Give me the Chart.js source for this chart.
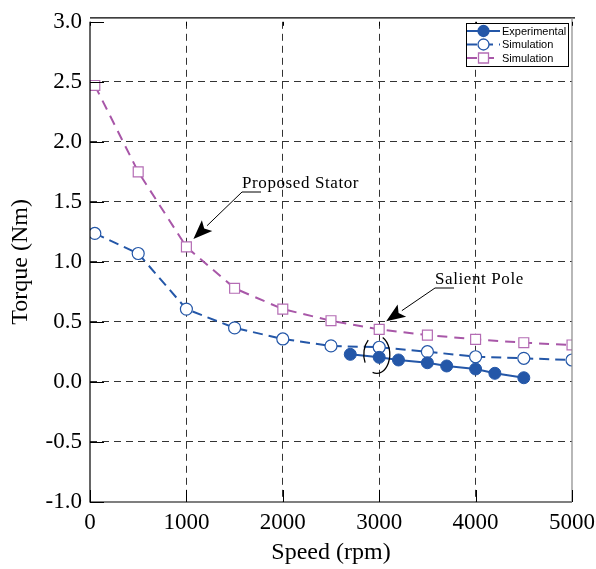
<!DOCTYPE html>
<html>
<head>
<meta charset="utf-8">
<script src="https://cdn.jsdelivr.net/npm/chart.js@4.4.1/dist/chart.umd.min.js"></script>
<style>
    html, body { margin: 0; padding: 0; background: #fff; }
    #wrap { width: 596px; height: 569px; }
</style>
</head>
<body>
<div id="wrap"><canvas id="torqueChart" width="596" height="569"></canvas></div>
<script>
// Dados
const speedExp = [2700, 3000, 3200, 3500, 3700, 4000, 4200, 4500];
const torqueExp = [0.23, 0.205, 0.183, 0.16, 0.133, 0.108, 0.072, 0.035];
const speedSim = [50, 500, 1000, 1500, 2000, 2500, 3000, 3500, 4000, 4500, 5000];
const torqueSimSalient = [1.237, 1.07, 0.607, 0.45, 0.358, 0.30, 0.289, 0.252, 0.21, 0.197, 0.183];
const torqueSimStator = [2.47, 1.75, 1.125, 0.78, 0.607, 0.51, 0.438, 0.39, 0.355, 0.327, 0.308];
const xTicks = [0, 1000, 2000, 3000, 4000, 5000];
const yTicks = [-1.0, -0.5, 0.0, 0.5, 1.0, 1.5, 2.0, 2.5, 3.0];
const seriesNames = ['Experimental', 'Simulation', 'Simulation'];

const blue = '#2457a8';
const purple = '#a857a8';
const serif = '"Liberation Serif", "Times New Roman", serif';

function toPoints(xs, ys) {
    return xs.map((x, i) => ({ x: x, y: ys[i] }));
}

// Linhas de grade só no interior (as bordas são desenhadas à parte)
function gridColor(c, lo, hi) {
    const v = c.tick ? c.tick.value : null;
    return (v === lo || v === hi) ? 'rgba(0,0,0,0)' : '#333';
}

// Desenha uma seta com ponta cheia
function drawArrow(ctx, x1, y1, x2, y2) {
    const ang = Math.atan2(y2 - y1, x2 - x1);
    const len = 19, half = 7.5;
    const bx = x2 - len * Math.cos(ang), by = y2 - len * Math.sin(ang);
    ctx.beginPath();
    ctx.moveTo(x1, y1);
    ctx.lineTo(bx, by);
    ctx.stroke();
    ctx.beginPath();
    ctx.moveTo(x2, y2);
    ctx.lineTo(bx + half * Math.sin(ang), by - half * Math.cos(ang));
    ctx.lineTo(bx + 4 * Math.cos(ang), by + 4 * Math.sin(ang));
    ctx.lineTo(bx - half * Math.sin(ang), by + half * Math.cos(ang));
    ctx.closePath();
    ctx.fill();
}

// Plugin: moldura, marcas internas, anotações e legenda
const decorPlugin = {
    id: 'decor',
    afterDatasetsDraw(chart) {
        const ctx = chart.ctx;
        const a = chart.chartArea;
        const xs = chart.scales.x, ys = chart.scales.y;
        ctx.save();

        // moldura
        ctx.setLineDash([]);
        ctx.strokeStyle = '#000';
        ctx.lineWidth = 1.2;
        ctx.beginPath();
        ctx.moveTo(a.left, a.top);
        ctx.lineTo(a.left, a.bottom);
        ctx.lineTo(a.right, a.bottom);
        ctx.moveTo(a.left, a.top - 4);
        ctx.lineTo(a.right + 3, a.top - 4);
        ctx.stroke();
        ctx.strokeStyle = '#888';
        ctx.beginPath();
        ctx.moveTo(a.right, a.top - 4);
        ctx.lineTo(a.right, a.bottom);
        ctx.stroke();

        // marcas internas
        ctx.strokeStyle = '#000';
        ctx.lineWidth = 1;
        ctx.beginPath();
        yTicks.forEach(v => {
            const py = Math.round(ys.getPixelForValue(v)) + 0.5;
            ctx.moveTo(a.left, py);
            ctx.lineTo(a.left + 14, py);
        });
        xTicks.forEach(v => {
            const px = Math.round(xs.getPixelForValue(v)) + 0.5;
            ctx.moveTo(px, a.bottom);
            ctx.lineTo(px, a.bottom - 12);
            ctx.moveTo(px, a.top);
            ctx.lineTo(px, a.top + 4);
        });
        ctx.stroke();

        // parênteses em volta de 3000 rpm
        const cx = xs.getPixelForValue(2975), cy = ys.getPixelForValue(0.23);
        ctx.lineWidth = 1.3;
        ctx.beginPath();
        ctx.ellipse(cx, cy, 13, 19, 0, Math.PI - 0.45, Math.PI + 0.85);
        ctx.stroke();
        ctx.beginPath();
        ctx.ellipse(cx, cy, 13, 19, 0, -1.1, 1.9);
        ctx.stroke();

        // anotações com seta
        ctx.fillStyle = '#000';
        ctx.font = '17px ' + serif;
        ctx.textBaseline = 'middle';
        ctx.textAlign = 'left';
        const notes = [
            { text: 'Proposed Stator', tx: 242, ty: 184, ux: 261, uy: 192, px: 1000, pv: 1.125 },
            { text: 'Salient Pole', tx: 435, ty: 280, ux: 454, uy: 288, px: 3000, pv: 0.438 }
        ];
        notes.forEach(n => {
            ctx.letterSpacing = '0.6px';
            ctx.fillText(n.text, n.tx, n.ty);
            ctx.letterSpacing = '0px';
            ctx.lineWidth = 1;
            ctx.beginPath();
            ctx.moveTo(n.tx, n.uy);
            ctx.lineTo(n.ux, n.uy);
            ctx.stroke();
            const tipX = xs.getPixelForValue(n.px) + 7;
            const tipY = ys.getPixelForValue(n.pv) - 8;
            drawArrow(ctx, n.tx, n.uy, tipX, tipY);
        });

        // legenda
        const lx = 466, ly = 23, lw = 102, lh = 43;
        ctx.fillStyle = '#fff';
        ctx.fillRect(lx, ly, lw, lh);
        ctx.strokeStyle = '#000';
        ctx.lineWidth = 1;
        ctx.strokeRect(lx + 0.5, ly + 0.5, lw, lh);
        ctx.font = '11px "Liberation Sans", Arial, sans-serif';
        chart.data.datasets.forEach((ds, i) => {
            const ry = ly + 8 + i * 13.5;
            ctx.setLineDash(ds.borderDash || []);
            ctx.strokeStyle = ds.borderColor;
            ctx.lineWidth = 2;
            ctx.beginPath();
            ctx.moveTo(lx + 1, ry);
            ctx.lineTo(lx + 34, ry);
            ctx.stroke();
            ctx.setLineDash([]);
            ctx.lineWidth = 1.3;
            ctx.strokeStyle = ds.pointBorderColor;
            ctx.fillStyle = ds.pointBackgroundColor;
            ctx.beginPath();
            if (ds.pointStyle === 'rect') {
                ctx.rect(lx + 12.5, ry - 5, 10, 10);
            } else {
                ctx.arc(lx + 17.5, ry, 5.5, 0, Math.PI * 2);
            }
            ctx.fill();
            ctx.stroke();
            ctx.fillStyle = '#000';
            ctx.fillText(seriesNames[i], lx + 36, ry + 0.5);
        });
        ctx.restore();
    }
};

const ctx = document.getElementById('torqueChart');
new Chart(ctx, {
    type: 'line',
    data: {
        datasets: [{
            label: seriesNames[0],
            data: toPoints(speedExp, torqueExp),
            borderColor: blue,
            borderWidth: 2,
            pointStyle: 'circle',
            pointRadius: 6,
            pointBackgroundColor: blue,
            pointBorderColor: blue,
            pointBorderWidth: 1
        }, {
            label: seriesNames[1],
            data: toPoints(speedSim, torqueSimSalient),
            borderColor: blue,
            borderWidth: 2,
            borderDash: [10, 6],
            pointStyle: 'circle',
            pointRadius: 6,
            pointBackgroundColor: '#fff',
            pointBorderColor: blue,
            pointBorderWidth: 1.2
        }, {
            label: seriesNames[2],
            data: toPoints(speedSim, torqueSimStator),
            borderColor: purple,
            borderWidth: 2,
            borderDash: [10, 7],
            pointStyle: 'rect',
            pointRadius: 7,
            pointBackgroundColor: '#fff',
            pointBorderColor: '#b46cb4',
            pointBorderWidth: 1.2
        }]
    },
    options: {
        responsive: false,
        animation: false,
        layout: { padding: { top: 21, right: 24, left: 0, bottom: 0 } },
        plugins: {
            legend: { display: false },
            tooltip: { enabled: false }
        },
        scales: {
            x: {
                type: 'linear',
                min: 0,
                max: 5000,
                afterFit: scale => { scale.height = 67; scale.paddingLeft = 0; scale.paddingRight = 0; },
                afterBuildTicks: scale => { scale.ticks = xTicks.map(v => ({ value: v })); },
                border: { display: false, dash: [7, 5] },
                grid: { color: c => gridColor(c, 0, 5000), lineWidth: 1, drawTicks: false },
                ticks: { color: '#000', padding: 7, font: { family: serif, size: 23 }, callback: v => String(v) },
                title: { display: true, text: 'Speed (rpm)', color: '#000', padding: { top: 0, bottom: 2 }, font: { family: serif, size: 24 } }
            },
            y: {
                type: 'linear',
                min: -1,
                max: 3,
                afterFit: scale => { scale.width = 90; },
                afterBuildTicks: scale => { scale.ticks = yTicks.map(v => ({ value: v })); },
                border: { display: false, dash: [7, 5] },
                grid: { color: c => gridColor(c, -1, 3), lineWidth: 1, drawTicks: false },
                ticks: { color: '#000', padding: 8, font: { family: serif, size: 23 }, callback: v => v.toFixed(1) },
                title: { display: true, text: 'Torque (Nm)', color: '#000', padding: { top: 6, bottom: 0 }, font: { family: serif, size: 24 } }
            }
        }
    },
    plugins: [decorPlugin]
});
</script>
</body>
</html>
